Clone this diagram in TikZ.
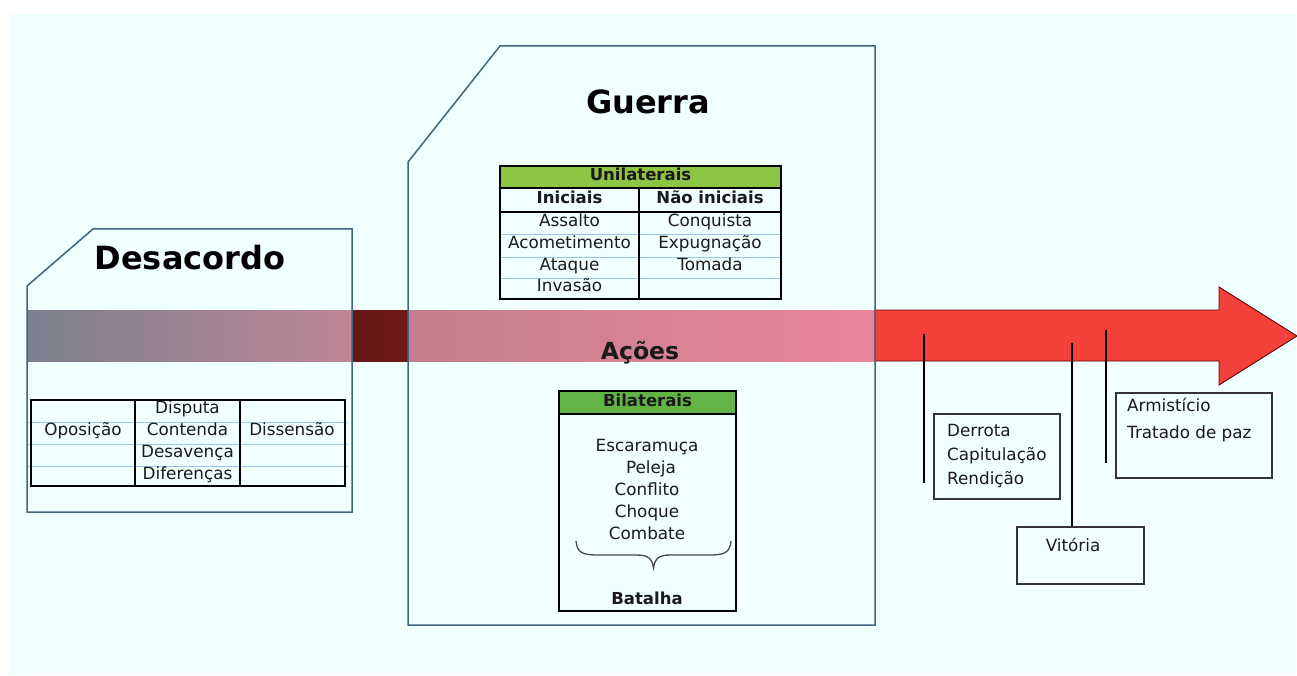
\documentclass[tikz,border=0pt]{standalone}
\usepackage{fontspec}
\setmainfont{DejaVu Sans}
\definecolor{panel}{HTML}{F0FFFF}
\definecolor{ink}{HTML}{1A1A1A}
\definecolor{frame}{HTML}{3F6580}
\definecolor{gridblue}{HTML}{9CC6EA}
\definecolor{greenA}{HTML}{8DC545}
\definecolor{greenB}{HTML}{62B446}
\definecolor{redA}{HTML}{F2403A}
\definecolor{darkred}{HTML}{711919}
\begin{document}
\begin{tikzpicture}[x=1pt,y=-1pt,
  txt/.style={inner sep=0pt, text=ink, text height=12pt, text depth=3pt, font=\fontsize{16.8}{19}\selectfont},
  btxt/.style={txt, font=\fontsize{16.5}{19}\selectfont\bfseries},
  titletxt/.style={inner sep=0pt, text=black, font=\fontsize{32}{36}\selectfont\bfseries},
  bigbox/.style={draw=frame, line width=1.5pt},
  tline/.style={draw=black, line width=1.8pt},
  thin/.style={draw=gridblue, line width=0.9pt},
  sidebox/.style={draw=black!80, line width=1.7pt, rectangle, inner sep=0pt},
  tick/.style={draw=black, line width=1.6pt}]
\useasboundingbox (0,0) rectangle (1297,676);
\fill[white] (0,0) rectangle (1297,676);
\fill[panel] (10,14) rectangle (1296,675);

% band
\shade[left color={rgb,255:red,122;green,128;blue,142}, right color={rgb,255:red,192;green,134;blue,150}] (27,310) rectangle (352,361);
\shade[left color=darkred!90!black, right color=darkred] (352,310) rectangle (408,361);
\shade[left color={rgb,255:red,196;green,126;blue,142}, right color={rgb,255:red,234;green,134;blue,154}] (408,310) rectangle (875,361);
\path[fill=redA, draw=black!60!red, line width=0.9pt] (875,310) -- (1219,310) -- (1219,287) -- (1297,336) -- (1219,385) -- (1219,361) -- (875,361) -- cycle;

% Desacordo frame
\draw[bigbox] (27,286) -- (93,229) -- (352,229) -- (352,512) -- (27,512) -- cycle;
\node[titletxt] (desacordo) at (190,258) {Desacordo};

% Desacordo table
\foreach \yy in {422,444,466} \draw[thin] (28,\yy) -- (348,\yy);
\draw[tline] (31,400) rectangle (345,486);
\draw[tline] (135,400) -- (135,486);
\draw[tline] (240,400) -- (240,486);
\node[txt] (oposicao) at (83,431) {Oposição};
\node[txt] (disputa) at (187.5,409) {Disputa};
\node[txt] (contenda) at (187.5,431) {Contenda};
\node[txt] (desavenca) at (187.5,453) {Desavença};
\node[txt] (diferencas) at (187.5,475) {Diferenças};
\node[txt] (dissensao) at (292,431) {Dissensão};

% Guerra frame
\draw[bigbox] (408,162) -- (500,46) -- (875,46) -- (875,625) -- (408,625) -- cycle;
\node[titletxt] (guerra) at (648,102) {Guerra};

% Unilaterais table
\fill[greenA] (500,166) rectangle (781,188);
\foreach \yy in {234,257,278} \draw[thin] (500,\yy) -- (781,\yy);
\draw[tline] (500,166) rectangle (781,299);
\draw[tline] (500,188) -- (781,188);
\draw[tline] (500,212) -- (781,212);
\draw[tline] (639,188) -- (639,299);
\node[btxt] (unilaterais) at (640.5,176) {Unilaterais};
\node[btxt] (iniciais) at (569.5,199) {Iniciais};
\node[btxt] (naoiniciais) at (710,199) {Não iniciais};
\node[txt] (assalto) at (569.5,222) {Assalto};
\node[txt] (acometimento) at (569.5,244) {Acometimento};
\node[txt] (ataque) at (569.5,266) {Ataque};
\node[txt] (invasao) at (569.5,287) {Invasão};
\node[txt] (conquista) at (710,222) {Conquista};
\node[txt] (expugnacao) at (710,244) {Expugnação};
\node[txt] (tomada) at (710,266) {Tomada};

\node[inner sep=0pt, text=ink, font=\fontsize{23.5}{26}\selectfont\bfseries] (acoes) at (640,353) {Ações};

% Bilaterais box
\fill[greenB] (559,391) rectangle (736,414);
\draw[tline] (559,391) rectangle (736,611);
\draw[tline] (559,414) -- (736,414);
\node[btxt] (bilaterais) at (647.5,402) {Bilaterais};
\node[txt] (escaramuca) at (647,447) {Escaramuça};
\node[txt] (peleja) at (651,469) {Peleja};
\node[txt] (conflito) at (647,491) {Conflito};
\node[txt] (choque) at (647,513) {Choque};
\node[txt] (combate) at (647,535) {Combate};
\draw[draw=ink!80, line width=1.3pt] (576,541) .. controls (577,553) and (583,555) .. (598,555) -- (636,555) .. controls (648,555) and (652,558) .. (653.5,568) .. controls (655,558) and (659,555) .. (671,555) -- (709,555) .. controls (724,555) and (730,553) .. (731,541);
\node[btxt] (batalha) at (647,600) {Batalha};

% right side
\node[sidebox, minimum width=126pt, minimum height=85pt, anchor=north west, align=left, text=ink,
      font=\fontsize{16.8}{24}\selectfont] (derrota) at (933,413) {Derrota\\Capitulação\\Rendição};
\node[sidebox, minimum width=127pt, minimum height=57pt, anchor=north west] (vitoriabox) at (1016,526) {};
\node[txt] (vitoria) at (1073,547) {Vitória};
\node[sidebox, minimum width=156pt, minimum height=85pt, anchor=north west] (armbox) at (1115,392) {};
\node[txt, anchor=west] (armisticio) at (1127,407) {Armistício};
\node[txt, anchor=west] (tratado) at (1127,434) {Tratado de paz};

\coordinate (t1a) at (924,334);
\coordinate (t1b) at (924,483);
\coordinate (t2a) at (1072,343);
\coordinate (t3a) at (1106,330);
\coordinate (t3b) at (1106,463);
\draw[tick] (t1a) -- (t1b);
\draw[tick] (t2a) -- (t2a |- vitoriabox.north);
\draw[tick] (t3a) -- (t3b);
\end{tikzpicture}
\end{document}
